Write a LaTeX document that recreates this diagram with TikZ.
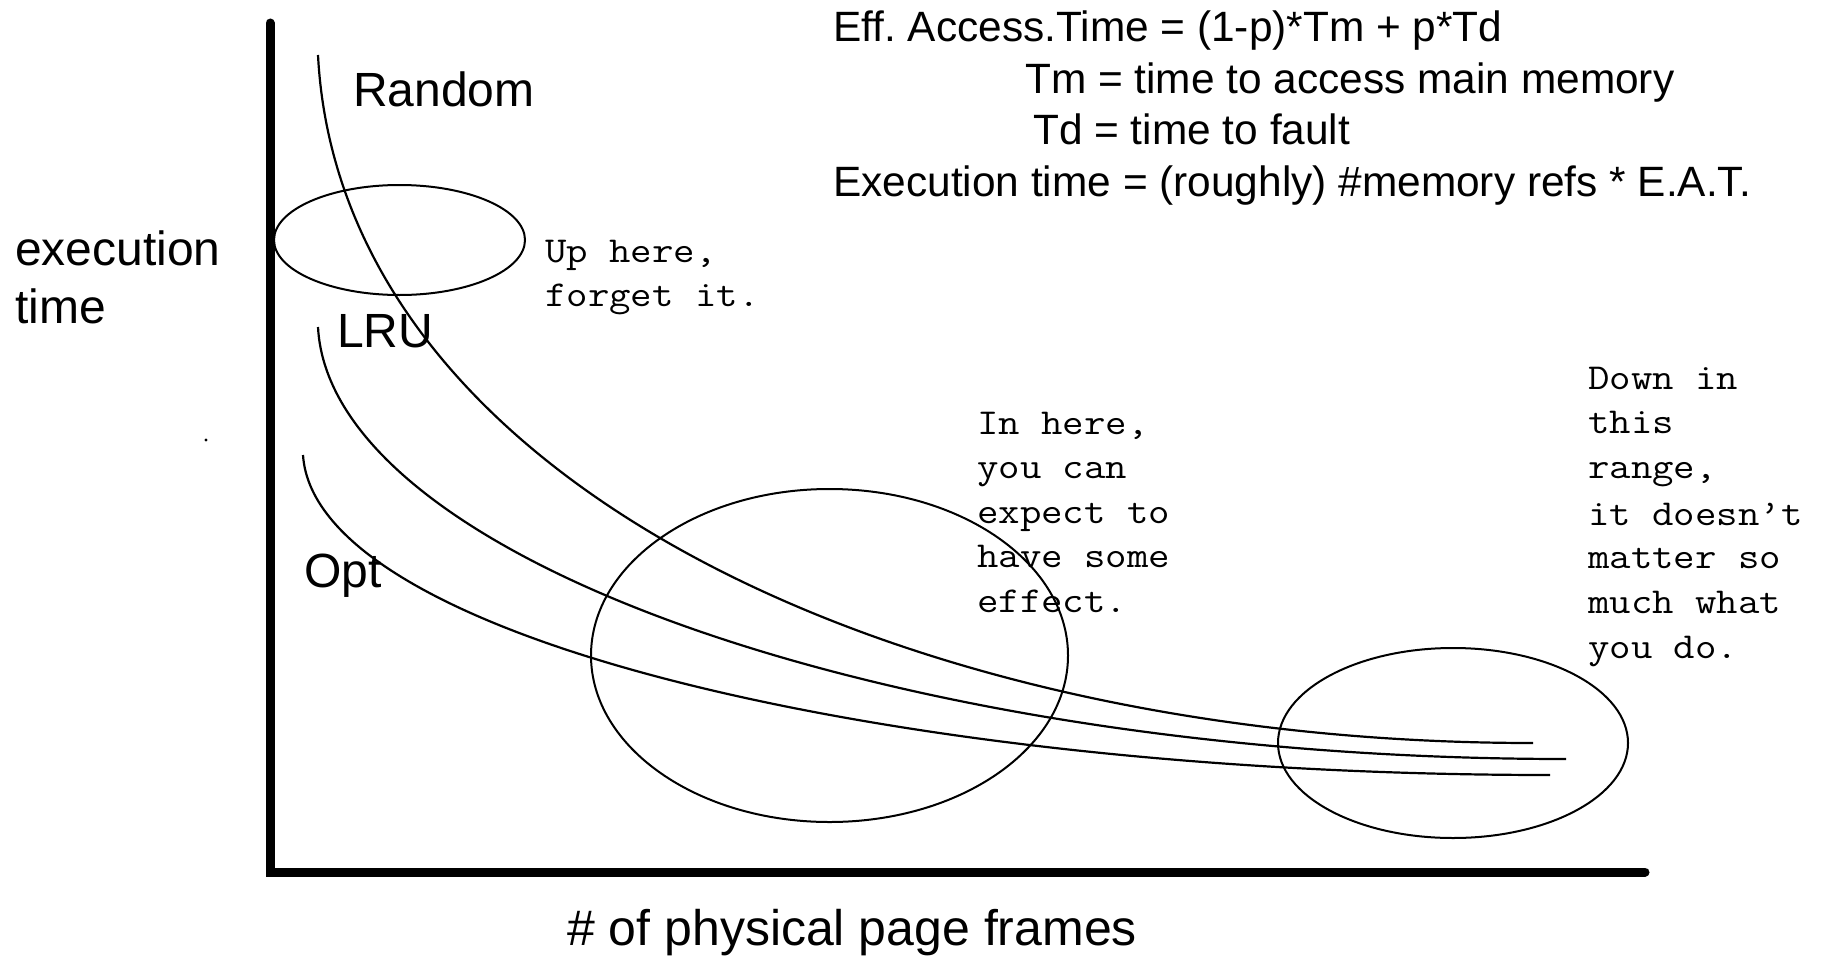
\documentclass[tikz,border=0pt]{standalone}
\usepackage{fontspec}
\setmainfont{Liberation Sans}
\setmonofont[FakeStretch=1.14]{Latin Modern Mono}
\frenchspacing
\begin{document}
\begin{tikzpicture}[x=1pt,y=-1pt,
  axis/.style={line width=9pt, line cap=round},
  curve/.style={line width=2.2pt, line cap=butt},
  ring/.style={line width=2pt},
  lbl/.style={inner sep=0pt, anchor=base west, font=\fontsize{48}{57}\selectfont},
  xlbl/.style={inner sep=0pt, anchor=base west, font=\fontsize{50}{60}\selectfont},
  hdr/.style={inner sep=0pt, anchor=base west, font=\fontsize{42.4}{50}\selectfont},
  note/.style={inner sep=0pt, anchor=base west, font=\ttfamily\fontsize{36.5}{44}\selectfont}]
\useasboundingbox (0,0) rectangle (1822,963);

% axes
\coordinate (ytop) at (270,23);
\coordinate (orig) at (270,872);
\coordinate (xend) at (1645,872);
\draw[axis] (ytop) -- (orig) -- (xend);

% curves
\coordinate (r0) at (318,55);   \coordinate (r1) at (1533,743);
\coordinate (l0) at (318,327);  \coordinate (l1) at (1566,759);
\coordinate (o0) at (303,455);  \coordinate (o1) at (1550,775);
\draw[curve] (r0) .. controls (340,480) and (900,743) .. (r1);
\draw[curve] (l0) .. controls (330,560) and (900,759) .. (l1);
\draw[curve] (o0) .. controls (315,640) and (900,775) .. (o1);

% ellipses
\draw[ring] (399.5,240) ellipse [x radius=125.5, y radius=55];
\draw[ring] (829.5,655.5) ellipse [x radius=238.5, y radius=166.5];
\draw[ring] (1453,743) ellipse [x radius=175, y radius=95];

% stray dot
\fill (206,440) circle (1.6);

% curve labels
\node[lbl] (random) at (353,107) {Random};
\node[lbl] (lru) at (337,347) {LRU};
\node[lbl] (opt) at (304,587) {Opt};

% axis labels
\node[lbl] (ylab1) at (15,265) {execution};
\node[lbl] (ylab2) at (15,323) {time};
\node[xlbl] (xlab) at (567,945) {\# of physical page frames};

% header
\node[hdr] (h1) at (833,42) {Eff. Access.Time = (1-p)*Tm + p*Td};
\node[hdr] (h2) at (1025,94) {Tm = time to access main memory};
\node[hdr] (h3) at (1033,145) {Td = time to fault};
\node[hdr] (h4) at (833,196) {Execution time = (roughly) \#memory refs * E.A.T.};

% notes
\node[note] (u1) at (545,262) {Up here,};
\node[note] (u2) at (545,306) {forget it.};

\node[note] (i1) at (977,434) {In here,};
\node[note] (i2) at (977,478) {you can};
\node[note] (i3) at (977,523) {expect to};
\node[note] (i4) at (977,567) {have some};
\node[note] (i5) at (977,612) {effect.};

\node[note] (d1) at (1588,389) {Down in};
\node[note] (d2) at (1588,433) {this};
\node[note] (d3) at (1588,478) {range,};
\node[note] (d4) at (1588,525) {it doesn’t};
\node[note] (d5) at (1588,568) {matter so};
\node[note] (d6) at (1588,613) {much what};
\node[note] (d7) at (1588,658) {you do.};
\end{tikzpicture}
\end{document}
